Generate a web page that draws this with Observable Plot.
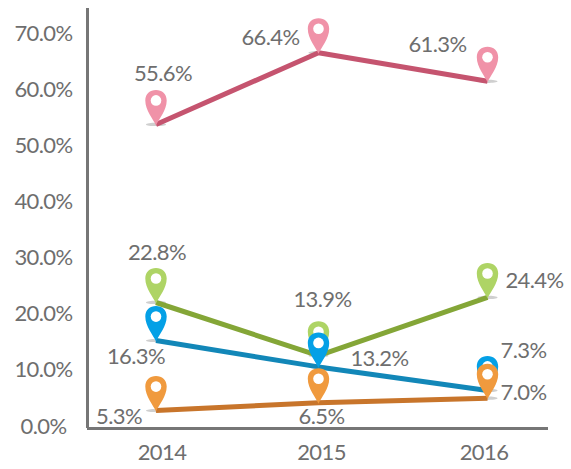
<!DOCTYPE html>
<html><head><meta charset="utf-8">
<style>html,body{margin:0;padding:0;background:#fff}svg{display:block}</style>
<script src="https://cdn.jsdelivr.net/npm/d3@7"></script>
<script src="https://cdn.jsdelivr.net/npm/@observablehq/plot@0.6"></script>
</head><body><script>
const years = [2014, 2015, 2016];
const yTicks = [0, 10, 20, 30, 40, 50, 60, 70];
// plotted heights
const coral = [54.3, 67.1, 62.0];
const green = [22.5, 13.0, 23.4];
const blue = [15.7, 11.0, 6.8];
const orange = [3.2, 4.6, 5.4];
// printed value labels
const coralLabels = ["55.6%", "66.4%", "61.3%"];
const greenLabels = ["22.8%", "13.9%", "24.4%"];
const blueLabels = ["16.3%", "13.2%", "7.3%"];
const orangeLabels = ["5.3%", "6.5%", "7.0%"];

const INK = "#6e6e6e", FONT = "Lato", SIZE = 22;
const pinShape = {draw(c, size){
  const k = Math.sqrt(size/Math.PI)/10;
  c.moveTo(0,1*k);
  c.bezierCurveTo(-2.5*k,-5*k,-10.7*k,-14*k,-10.7*k,-24*k);
  c.bezierCurveTo(-10.7*k,-30.5*k,-6*k,-34.5*k,0,-34.5*k);
  c.bezierCurveTo(6*k,-34.5*k,10.7*k,-30.5*k,10.7*k,-24*k);
  c.bezierCurveTo(10.7*k,-14*k,2.5*k,-5*k,0,1*k);
  c.closePath();
}};
const shadowShape = {draw(c, size){
  const k = Math.sqrt(size/Math.PI)/10;
  c.moveTo(-10*k,0);
  c.bezierCurveTo(-10*k,-2.2*k,10*k,-2.2*k,10*k,0);
  c.bezierCurveTo(10*k,2.2*k,-10*k,2.2*k,-10*k,0);
  c.closePath();
}};
const series = [
  {name:"coral", v:coral, labels:coralLabels, line:"#c5546f", pin:"#f092a8", off:[[7,-50],[-48,-15],[-50,-36]]},
  {name:"green", v:green, labels:greenLabels, line:"#84a637", pin:"#aed465", off:[[1,-50],[4,-56],[47,-17]]},
  {name:"blue", v:blue, labels:blueLabels, line:"#1287b8", pin:"#04a0e6", off:[[-20,16],[61,-8],[36,-39]]},
  {name:"orange", v:orange, labels:orangeLabels, line:"#c8752b", pin:"#f09a3e", off:[[-37,6],[3,14],[36,-5]]}
];
const rows = s => years.map((year,i)=>({year, value:s.v[i], label:s.labels[i]}));
const x0 = 2013.587;
const textStyle = {fontSize:SIZE,fill:INK,fontFamily:FONT};

const marks = [];
for (const s of series) marks.push(Plot.dot(rows(s),{x:"year",y:"value",r:10,symbol:shadowShape,fill:"#cfcfcf",stroke:"none"}));
for (const s of series) marks.push(Plot.line(rows(s),{x:"year",y:"value",stroke:s.line,strokeWidth:5,strokeLinecap:"butt",curve:"linear"}));
for (const s of series) {
  marks.push(Plot.dot(rows(s),{x:"year",y:"value",r:10,symbol:pinShape,fill:s.pin,stroke:"none"}));
  marks.push(Plot.dot(rows(s),{x:"year",y:"value",r:5.3,dy:-24,fill:"white",stroke:"none"}));
}
for (const s of series) {
  rows(s).forEach((d,i)=>{
    marks.push(Plot.text([d],{x:"year",y:"value",text:"label",dx:s.off[i][0],dy:s.off[i][1],...textStyle}));
  });
}
marks.push(Plot.ruleX([x0],{stroke:"#767676",strokeWidth:3}));
marks.push(Plot.ruleY([0],{stroke:"#767676",strokeWidth:3}));
const yFmt = d => d.toFixed(1)+"%";
marks.push(Plot.text(yTicks.filter(d=>d>0),{x:()=>x0,y:d=>d,text:yFmt,textAnchor:"end",dx:-15,dy:-2.5,...textStyle}));
marks.push(Plot.text([0],{x:()=>x0,y:d=>d,text:yFmt,textAnchor:"end",dx:-21,dy:-2,...textStyle}));
const tickDx = [6,3,-3.5];
years.forEach((yr,i)=>marks.push(Plot.text([yr],{x:d=>d,y:()=>0,text:d=>String(d),dy:24,dx:tickDx[i],...textStyle})));

document.body.append(Plot.plot({
  width:571,height:469,
  marginLeft:87,marginRight:23,marginTop:8,marginBottom:41,
  style:{fontFamily:FONT,background:"#fff",letterSpacing:"-0.6px"},
  x:{type:"linear",domain:[x0,2014,2015,2016,2016.37],range:[87,155.5,318,487,548],axis:null},
  y:{domain:[0,75],axis:null},
  marks
}));
</script></body></html>
